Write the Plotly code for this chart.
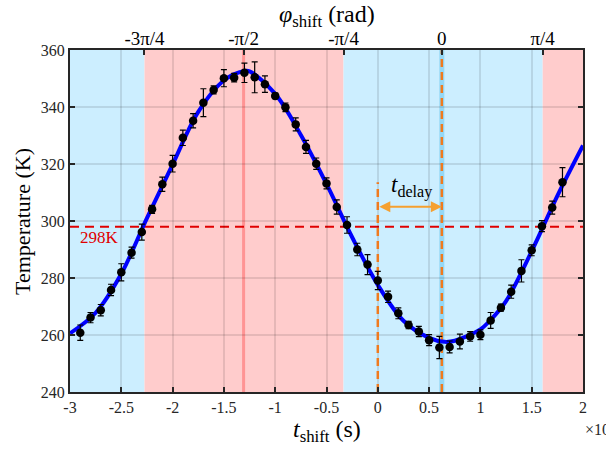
import plotly.graph_objects as go

# ---- data ----
t_data = [-2.9, -2.8, -2.7, -2.6, -2.5, -2.4, -2.3, -2.2, -2.1, -2.0,
          -1.9, -1.8, -1.7, -1.6, -1.5, -1.4, -1.3, -1.2, -1.1, -1.0,
          -0.9, -0.8, -0.7, -0.6, -0.5, -0.4, -0.3, -0.2, -0.1, 0.0,
          0.1, 0.2, 0.3, 0.4, 0.5, 0.6, 0.7, 0.8, 0.9, 1.0,
          1.1, 1.2, 1.3, 1.4, 1.5, 1.6, 1.7, 1.8]
T_data = [260.8, 266.1, 268.7, 275.8, 282.0, 288.9, 296.1, 304.1, 312.9, 320.1,
          329.2, 335.2, 341.5, 346.0, 350.1, 350.3, 352.0, 350.4, 348.0, 343.9,
          339.9, 333.9, 326.0, 320.1, 313.2, 304.9, 298.6, 290.0, 284.7, 279.1,
          273.4, 267.6, 263.5, 261.2, 258.2, 255.6, 255.8, 257.7, 259.5, 260.1,
          265.1, 269.6, 275.2, 282.5, 289.7, 298.2, 304.7, 313.6]
T_err = [2.7, 1.8, 2.0, 2.0, 3.0, 1.9, 2.8, 1.4, 2.5, 2.9,
         2.7, 2.5, 4.9, 1.4, 3.0, 1.5, 3.4, 5.4, 2.9, 1.0,
         1.5, 2.3, 2.3, 2.0, 1.9, 2.5, 2.9, 2.2, 3.5, 3.2,
         2.0, 1.9, 1.3, 1.8, 1.9, 3.9, 2.1, 2.6, 1.7, 1.7,
         2.8, 1.2, 2.3, 3.9, 1.9, 1.9, 2.3, 5.1]

# fitted curve, values
t_fit = [-3.0, -2.75, -2.5, -2.25, -2.0, -1.75, -1.5, -1.3, -1.25, -1.0,
         -0.75, -0.5, -0.25, 0.0, 0.25, 0.5, 0.65, 0.75, 1.0, 1.1,
         1.25, 1.5, 1.75, 2.0]
T_fit = [260.6, 267.8, 281.5, 301.0, 319.8, 338.3, 349.3, 352.6, 352.5, 344.6,
         330.2, 313.0, 294.3, 277.6, 265.0, 259.0, 257.6, 258.0, 262.0, 265.3,
         271.9, 289.4, 308.8, 326.5]

x_ticks = [-3, -2.5, -2, -1.5, -1, -0.5, 0, 0.5, 1, 1.5, 2]
x_ticktext = ["-3", "-2.5", "-2", "-1.5", "-1", "-0.5", "0", "0.5", "1", "1.5", "2"]
phi_pos = [-2.274, -1.308, -0.334, 0.624, 1.607]
phi_text = ["-3π/4", "-π/2", "-π/4", "0", "π/4"]
y_ticks = [240, 260, 280, 300, 320, 340, 360]

T_room = 298
band_edges = [-3, -2.274, -0.334, 1.607, 2]
band_colors = ["#CCEEFF", "#FFCCCC", "#CCEEFF", "#FFCCCC"]
t_peak = -1.308
t_zero = 0.0
t_min = 0.624
delay_y = 305
delay_top = 313.6

FONT = "Times New Roman, Liberation Serif, Tinos, DejaVu Serif, serif"
AX = "#262626"

fig = go.Figure()

fig.add_trace(go.Scatter(
    x=t_fit, y=T_fit, mode="lines", line=dict(color="#0000FF", width=4, shape="spline", smoothing=1.0),
    hoverinfo="skip", showlegend=False))

fig.add_trace(go.Scatter(
    x=t_data, y=T_data, mode="markers",
    marker=dict(color="black", size=8.5),
    error_y=dict(type="data", array=T_err, color="black", thickness=1.2, width=3),
    showlegend=False))

fig.add_trace(go.Scatter(x=phi_pos, y=[None] * len(phi_pos), xaxis="x2", mode="markers",
                         showlegend=False, hoverinfo="skip"))

shapes = []
for i, c in enumerate(band_colors):
    shapes.append(dict(type="rect", xref="x", yref="paper", x0=band_edges[i], x1=band_edges[i + 1],
                       y0=0, y1=1, fillcolor=c, line=dict(width=0), layer="below"))
shapes.append(dict(type="line", xref="x", yref="paper", x0=t_peak, x1=t_peak, y0=0, y1=1,
                   line=dict(color="rgba(255,110,110,0.6)", width=3), layer="between"))
shapes.append(dict(type="line", xref="x", yref="paper", x0=t_min, x1=t_min, y0=0, y1=1,
                   line=dict(color="#94D8F6", width=5), layer="between"))
shapes.append(dict(type="line", xref="paper", yref="y", x0=0, x1=1, y0=T_room, y1=T_room,
                   line=dict(color="#E00000", width=2, dash="9px,6px"), layer="between"))
shapes.append(dict(type="line", xref="x", yref="y", x0=t_zero, x1=t_zero, y0=240, y1=delay_top,
                   line=dict(color="#F07A1E", width=2.5, dash="8px,5px"), layer="between"))
shapes.append(dict(type="line", xref="x", yref="y", x0=t_min, x1=t_min, y0=240, y1=360,
                   line=dict(color="#F07A1E", width=2.5, dash="8px,5px"), layer="between"))

annotations = [
    dict(x=t_min, y=delay_y, ax=t_zero, ay=delay_y, xref="x", yref="y", axref="x", ayref="y",
         showarrow=True, arrowside="end+start", arrowhead=2, arrowsize=1, arrowwidth=2.2,
         arrowcolor="#F5A030", text=""),
    dict(x=0.324, y=312, xref="x", yref="y", showarrow=False,
         text="<i>t</i><sub>delay</sub>", font=dict(family=FONT, size=23, color="black")),
    dict(x=-2.71, y=294.1, xref="x", yref="y", showarrow=False,
         text="298K", font=dict(family=FONT, size=17, color="#E00000")),
    dict(x=0.501, y=-0.115, xref="paper", yref="paper", showarrow=False, yanchor="middle",
         text="<i>t</i><sub>shift</sub> (s)", font=dict(family=FONT, size=24, color="black")),
    dict(x=0.501, y=1.1, xref="paper", yref="paper", showarrow=False, yanchor="middle",
         text="<i>φ</i><sub>shift</sub> (rad)", font=dict(family=FONT, size=24, color="black")),
    dict(x=-0.122, y=0.5, xref="paper", yref="paper", showarrow=False, textangle=-90,
         text="Temperature (K)", font=dict(family=FONT, size=22, color="black")),
    dict(x=1.0, y=-0.105, xref="paper", yref="paper", showarrow=False, xanchor="left", yanchor="middle",
         text="×10<sup>-6</sup>", font=dict(family=FONT, size=16, color=AX)),
]

fig.update_layout(
    width=606, height=455,
    margin=dict(l=70, r=23, t=50, b=63),
    paper_bgcolor="white", plot_bgcolor="white",
    font=dict(family=FONT, size=16, color=AX),
    shapes=shapes, annotations=annotations,
    xaxis=dict(range=[-3, 2], tickvals=x_ticks, ticktext=x_ticktext, ticks="inside", ticklen=5,
               tickwidth=1.5, tickcolor=AX, showline=True, linewidth=2, linecolor=AX, mirror=True,
               showgrid=True, gridcolor="rgba(0,0,0,0.1)", gridwidth=1.5, zeroline=False,
               tickfont=dict(family=FONT, size=16, color=AX)),
    xaxis2=dict(range=[-3, 2], overlaying="x", side="top", tickvals=phi_pos, ticktext=phi_text,
                ticks="inside", ticklen=5, tickwidth=1.5, tickcolor=AX, showline=False,
                showgrid=False, zeroline=False, tickfont=dict(family=FONT, size=19, color="black")),
    yaxis=dict(range=[240, 360], tickvals=y_ticks, ticks="inside", ticklen=5, tickwidth=1.5,
               tickcolor=AX, showline=True, linewidth=2, linecolor=AX, mirror="ticks",
               showgrid=True, gridcolor="rgba(0,0,0,0.1)", gridwidth=1.5, zeroline=False,
               tickfont=dict(family=FONT, size=16, color=AX)),
)

fig.write_html("out.html")
